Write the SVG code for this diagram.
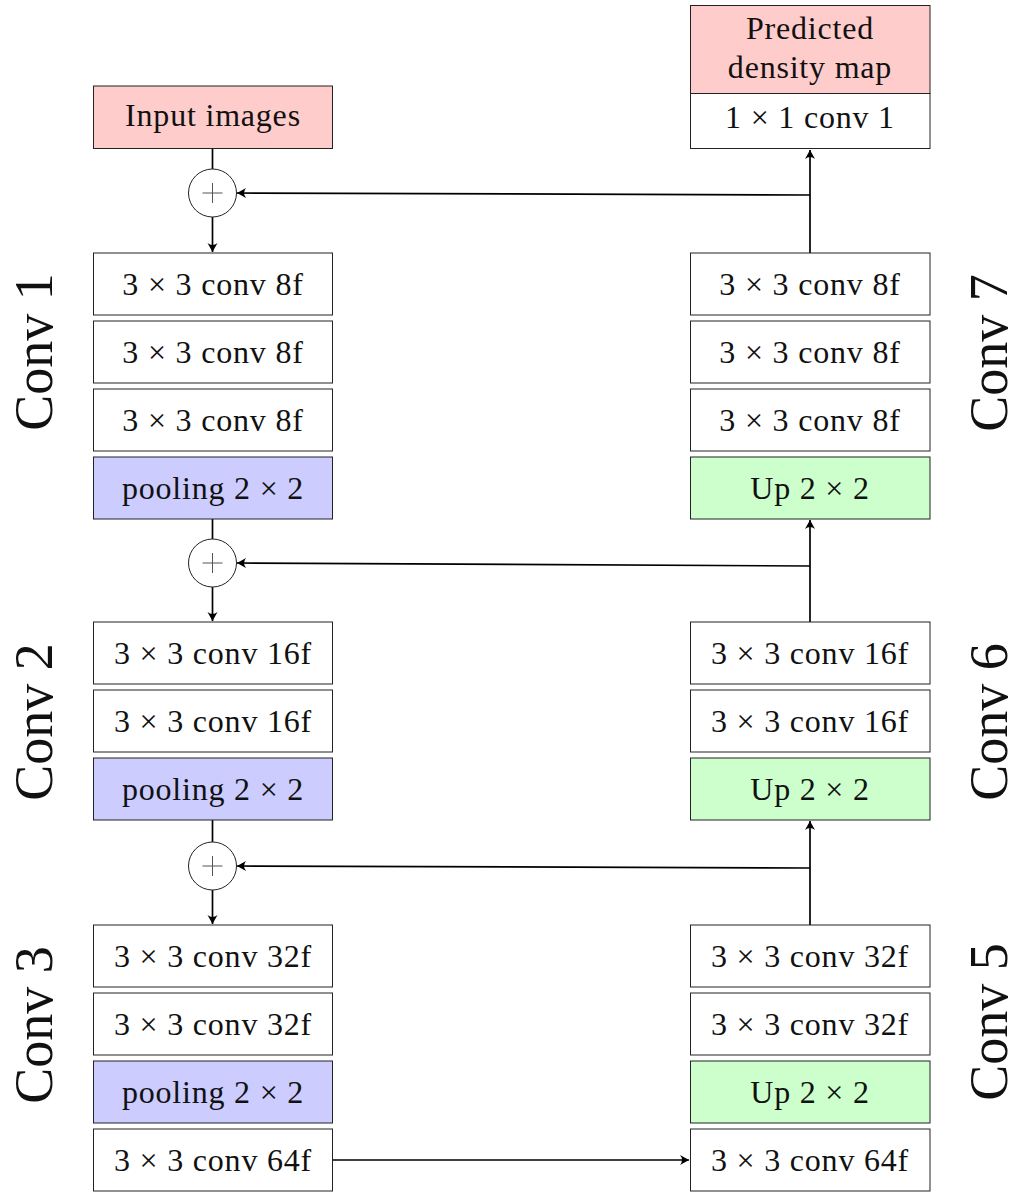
<svg xmlns="http://www.w3.org/2000/svg" width="1019" height="1192" viewBox="0 0 1019 1192">
  <style>
    .box { stroke: #222; stroke-width: 1; }
    .plain { fill: #ffffff; }
    .io { fill: #ffcccc; }
    .pool { fill: #ccccff; }
    .up { fill: #ccffcc; }
    .lbl { font-family: "Liberation Serif", "DejaVu Serif", serif; font-size: 32px; letter-spacing: 0.8px; fill: #111; text-anchor: middle; }
    .side { font-family: "Liberation Serif", "DejaVu Serif", serif; font-size: 54px; fill: #111; text-anchor: middle; }
    .sum { fill: #ffffff; stroke: #222; stroke-width: 1; }
    .plus { stroke: #555; stroke-width: 1; }
    .edge { fill: none; stroke: #000; stroke-width: 1.7; }
    .arr { marker-end: url(#tip); }
  </style>
  <defs>
    <marker id="tip" markerUnits="userSpaceOnUse" markerWidth="12" markerHeight="12" viewBox="-10 -6 12 12" refX="0" refY="0" orient="auto">
      <path d="M0,0 L-9,-5 Q-5,0 -9,5 Z" fill="#000"/>
    </marker>
  </defs>

  <rect width="1019" height="1192" fill="#ffffff"/>

  <!-- encoder side labels -->
  <text class="side" transform="translate(52,352) rotate(-90)">Conv 1</text>
  <text class="side" transform="translate(52,722) rotate(-90)">Conv 2</text>
  <text class="side" transform="translate(52,1025) rotate(-90)">Conv 3</text>
  <!-- decoder side labels -->
  <text class="side" transform="translate(1007,353) rotate(-90)">Conv 7</text>
  <text class="side" transform="translate(1007,722) rotate(-90)">Conv 6</text>
  <text class="side" transform="translate(1007,1022) rotate(-90)">Conv 5</text>

  <!-- connectors -->
  <g id="connectors">
    <line class="edge" x1="212.5" y1="149" x2="212.5" y2="169"/>
    <line class="edge arr" x1="212.5" y1="217" x2="212.5" y2="252"/>
    <line class="edge" x1="212.5" y1="519" x2="212.5" y2="539"/>
    <line class="edge arr" x1="212.5" y1="587" x2="212.5" y2="621"/>
    <line class="edge" x1="212.5" y1="820" x2="212.5" y2="842"/>
    <line class="edge arr" x1="212.5" y1="890" x2="212.5" y2="924"/>

    <line class="edge arr" x1="810" y1="253" x2="810" y2="150"/>
    <line class="edge arr" x1="810" y1="622" x2="810" y2="520"/>
    <line class="edge arr" x1="810" y1="925" x2="810" y2="821"/>

    <line class="edge arr" x1="810" y1="195" x2="237" y2="193"/>
    <line class="edge arr" x1="810" y1="566" x2="237" y2="563"/>
    <line class="edge arr" x1="810" y1="868" x2="237" y2="866"/>

    <line class="edge arr" x1="332" y1="1160" x2="689" y2="1160"/>
  </g>

  <!-- summation nodes -->
  <g id="sum1">
    <circle class="sum" cx="212.5" cy="193" r="24"/>
    <path class="plus" d="M202.5,193 H222.5 M212.5,183 V203"/>
  </g>
  <g id="sum2">
    <circle class="sum" cx="212.5" cy="563" r="24"/>
    <path class="plus" d="M202.5,563 H222.5 M212.5,553 V573"/>
  </g>
  <g id="sum3">
    <circle class="sum" cx="212.5" cy="866" r="24"/>
    <path class="plus" d="M202.5,866 H222.5 M212.5,856 V876"/>
  </g>

  <!-- encoder column -->
  <g id="input">
    <rect class="box io" x="93.5" y="86" width="239" height="62.5"/>
    <text class="lbl" x="213" y="126">Input images</text>
  </g>
  <g id="enc1a">
    <rect class="box plain" x="93.5" y="253" width="239" height="62"/>
    <text class="lbl" x="213" y="295">3 × 3 conv 8f</text>
  </g>
  <g id="enc1b">
    <rect class="box plain" x="93.5" y="321" width="239" height="62"/>
    <text class="lbl" x="213" y="363">3 × 3 conv 8f</text>
  </g>
  <g id="enc1c">
    <rect class="box plain" x="93.5" y="389" width="239" height="62"/>
    <text class="lbl" x="213" y="431">3 × 3 conv 8f</text>
  </g>
  <g id="enc1pool">
    <rect class="box pool" x="93.5" y="457" width="239" height="62"/>
    <text class="lbl" x="213" y="499">pooling 2 × 2</text>
  </g>
  <g id="enc2a">
    <rect class="box plain" x="93.5" y="622" width="239" height="62"/>
    <text class="lbl" x="213" y="664">3 × 3 conv 16f</text>
  </g>
  <g id="enc2b">
    <rect class="box plain" x="93.5" y="690" width="239" height="62"/>
    <text class="lbl" x="213" y="732">3 × 3 conv 16f</text>
  </g>
  <g id="enc2pool">
    <rect class="box pool" x="93.5" y="758" width="239" height="62"/>
    <text class="lbl" x="213" y="800">pooling 2 × 2</text>
  </g>
  <g id="enc3a">
    <rect class="box plain" x="93.5" y="925" width="239" height="62"/>
    <text class="lbl" x="213" y="967">3 × 3 conv 32f</text>
  </g>
  <g id="enc3b">
    <rect class="box plain" x="93.5" y="993" width="239" height="62"/>
    <text class="lbl" x="213" y="1035">3 × 3 conv 32f</text>
  </g>
  <g id="enc3pool">
    <rect class="box pool" x="93.5" y="1061" width="239" height="62"/>
    <text class="lbl" x="213" y="1103">pooling 2 × 2</text>
  </g>
  <g id="bottleneck">
    <rect class="box plain" x="93.5" y="1129" width="239" height="62"/>
    <text class="lbl" x="213" y="1171">3 × 3 conv 64f</text>
  </g>

  <!-- decoder column -->
  <g id="output">
    <rect class="box io" x="690.5" y="5.5" width="239.5" height="88"/>
    <text class="lbl" x="810" y="39">Predicted</text>
    <text class="lbl" x="810" y="78">density map</text>
  </g>
  <g id="dec-final">
    <rect class="box plain" x="690.5" y="93.5" width="239.5" height="55"/>
    <text class="lbl" x="810" y="128">1 × 1 conv 1</text>
  </g>
  <g id="dec7a">
    <rect class="box plain" x="690.5" y="253" width="239.5" height="62"/>
    <text class="lbl" x="810" y="295">3 × 3 conv 8f</text>
  </g>
  <g id="dec7b">
    <rect class="box plain" x="690.5" y="321" width="239.5" height="62"/>
    <text class="lbl" x="810" y="363">3 × 3 conv 8f</text>
  </g>
  <g id="dec7c">
    <rect class="box plain" x="690.5" y="389" width="239.5" height="62"/>
    <text class="lbl" x="810" y="431">3 × 3 conv 8f</text>
  </g>
  <g id="dec7up">
    <rect class="box up" x="690.5" y="457" width="239.5" height="62"/>
    <text class="lbl" x="810" y="499">Up 2 × 2</text>
  </g>
  <g id="dec6a">
    <rect class="box plain" x="690.5" y="622" width="239.5" height="62"/>
    <text class="lbl" x="810" y="664">3 × 3 conv 16f</text>
  </g>
  <g id="dec6b">
    <rect class="box plain" x="690.5" y="690" width="239.5" height="62"/>
    <text class="lbl" x="810" y="732">3 × 3 conv 16f</text>
  </g>
  <g id="dec6up">
    <rect class="box up" x="690.5" y="758" width="239.5" height="62"/>
    <text class="lbl" x="810" y="800">Up 2 × 2</text>
  </g>
  <g id="dec5a">
    <rect class="box plain" x="690.5" y="925" width="239.5" height="62"/>
    <text class="lbl" x="810" y="967">3 × 3 conv 32f</text>
  </g>
  <g id="dec5b">
    <rect class="box plain" x="690.5" y="993" width="239.5" height="62"/>
    <text class="lbl" x="810" y="1035">3 × 3 conv 32f</text>
  </g>
  <g id="dec5up">
    <rect class="box up" x="690.5" y="1061" width="239.5" height="62"/>
    <text class="lbl" x="810" y="1103">Up 2 × 2</text>
  </g>
  <g id="dec-in">
    <rect class="box plain" x="690.5" y="1129" width="239.5" height="62"/>
    <text class="lbl" x="810" y="1171">3 × 3 conv 64f</text>
  </g>
</svg>
